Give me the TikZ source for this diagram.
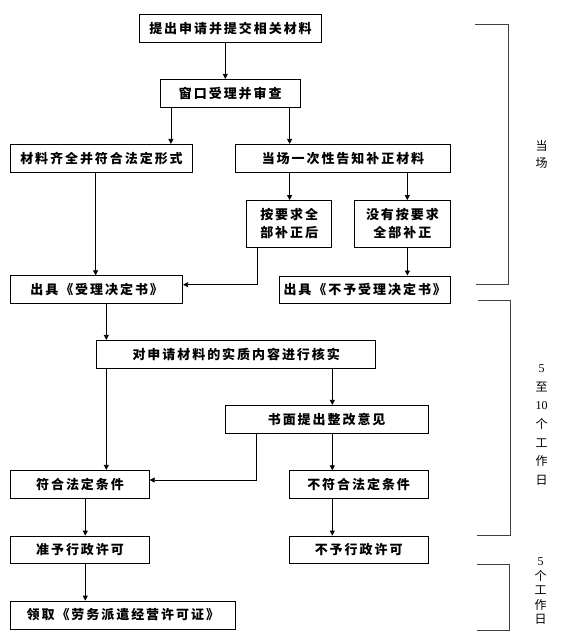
\documentclass[tikz,border=0pt]{standalone}
\usepackage{fontspec}
\setmainfont{Liberation Serif}
\newfontfamily\cjk{Noto Sans CJK SC}[LetterSpace=15]
\newfontfamily\cjkr{Noto Sans CJK SC}
\usetikzlibrary{arrows.meta}
\tikzset{
  bx/.style={draw, line width=0.8pt, inner sep=0pt, align=center,
    font=\fontsize{13}{18}\selectfont\cjk\bfseries},
  arr/.style={line width=0.8pt, -{Triangle[width=5pt,length=5pt]}},
  brk/.style={line width=0.9pt, draw=black!75},
  side/.style={align=center, inner sep=0pt, font=\fontsize{12}{18.6}\selectfont\cjkr}
}
\begin{document}
\begin{tikzpicture}[x=1pt,y=1pt]
\useasboundingbox (0,0) rectangle (560,-643);
% boxes
\node[bx, minimum width=182.4pt, minimum height=27.6pt] (b1) at (230.5,-28.5) {提出申请并提交相关材料};
\node[bx, minimum width=140pt, minimum height=28pt] (b2) at (230.3,-93.3) {窗口受理并审查};
\node[bx, minimum width=181.6pt, minimum height=28pt] (b3) at (101.5,-158.3) {材料齐全并符合法定形式};
\node[bx, minimum width=215.4pt, minimum height=28pt] (b4) at (343,-158.3) {当场一次性告知补正材料};
\node[bx, minimum width=85pt, minimum height=46.8pt] (b5) at (289.2,-223.9) {按要求全\\部补正后};
\node[bx, minimum width=96pt, minimum height=46.8pt] (b6) at (402.4,-223.9) {没有按要求\\全部补正};
\node[bx, minimum width=172pt, minimum height=27.6pt] (b7) at (96.7,-289.5) {出具《受理决定书》};
\node[bx, minimum width=171.5pt, minimum height=27.4pt] (b8) at (364.75,-289.6) {出具《不予受理决定书》};
\node[bx, minimum width=279pt, minimum height=28pt] (b9) at (236.2,-354.3) {对申请材料的实质内容进行核实};
\node[bx, minimum width=202.7pt, minimum height=28pt] (b10) at (326.65,-419.3) {书面提出整改意见};
\node[bx, minimum width=138.6pt, minimum height=28pt] (b11) at (80,-484.3) {符合法定条件};
\node[bx, minimum width=138.7pt, minimum height=27.6pt] (b12) at (358.65,-484.5) {不符合法定条件};
\node[bx, minimum width=138.6pt, minimum height=27.7pt] (b13) at (80,-549.85) {准予行政许可};
\node[bx, minimum width=138.7pt, minimum height=27.5pt] (b14) at (358.65,-549.75) {不予行政许可};
\node[bx, minimum width=224.3pt, minimum height=28pt] (b15) at (122.85,-615) {领取《劳务派遣经营许可证》};
% connectors
\draw[arr] ([xshift=86.4pt]b1.south west) -- ([xshift=86.4pt]b1.south west |- b2.north);
\draw[arr] ([xshift=11pt]b2.south west) -- ([xshift=11pt]b2.south west |- b3.north);
\draw[arr] ([xshift=129.7pt]b2.south west) -- ([xshift=129.7pt]b2.south west |- b4.north);
\draw[arr] ([xshift=85.3pt]b3.south west) -- ([xshift=85.3pt]b3.south west |- b7.north);
\draw[arr] ([xshift=54.7pt]b4.south west) -- ([xshift=54.7pt]b4.south west |- b5.north);
\draw[arr] ([xshift=172.4pt]b4.south west) -- ([xshift=172.4pt]b4.south west |- b6.north);
\draw[arr] ([xshift=11pt]b5.south west) |- ([yshift=4.8pt]b7.east);
\draw[arr] ([xshift=53.4pt]b6.south west) -- ([xshift=53.4pt]b6.south west |- b8.north);
\draw[arr] ([xshift=96pt]b7.south west) -- ([xshift=96pt]b7.south west |- b9.north);
\draw[arr] ([xshift=10pt]b9.south west) -- ([xshift=10pt]b9.south west |- b11.north);
\draw[arr] ([xshift=236pt]b9.south west) -- ([xshift=236pt]b9.south west |- b10.north);
\draw[arr] ([xshift=31.4pt]b10.south west) |- ([yshift=4.3pt]b11.east);
\draw[arr] ([xshift=107.4pt]b10.south west) -- ([xshift=107.4pt]b10.south west |- b12.north);
\draw[arr] ([xshift=75pt]b11.south west) -- ([xshift=75pt]b11.south west |- b13.north);
\draw[arr] ([xshift=43.4pt]b12.south west) -- ([xshift=43.4pt]b12.south west |- b14.north);
\draw[arr] ([xshift=75pt]b13.south west) -- ([xshift=75pt]b13.south west |- b15.north);
% brackets
\draw[brk] (475,-24) -- (508.3,-24) -- (508.3,-284) -- (476,-284);
\draw[brk] (478,-300) -- (510,-300) -- (510,-535.7) -- (477,-535.7);
\draw[brk] (477,-564) -- (509,-564) -- (509,-630) -- (477,-630);
% side labels
\node[side, font=\fontsize{12}{17.6}\selectfont\cjkr] (t1) at (541.7,-154.5) {当\\场};
\node[side] (t2) at (541.7,-424.9) {{\rmfamily 5}\\至\\{\rmfamily 10}\\个\\工\\作\\日};
\node[side, font=\fontsize{12}{14.5}\selectfont\cjkr] (t3) at (540.5,-591) {{\rmfamily 5}\\个\\工\\作\\日};
\end{tikzpicture}
\end{document}
